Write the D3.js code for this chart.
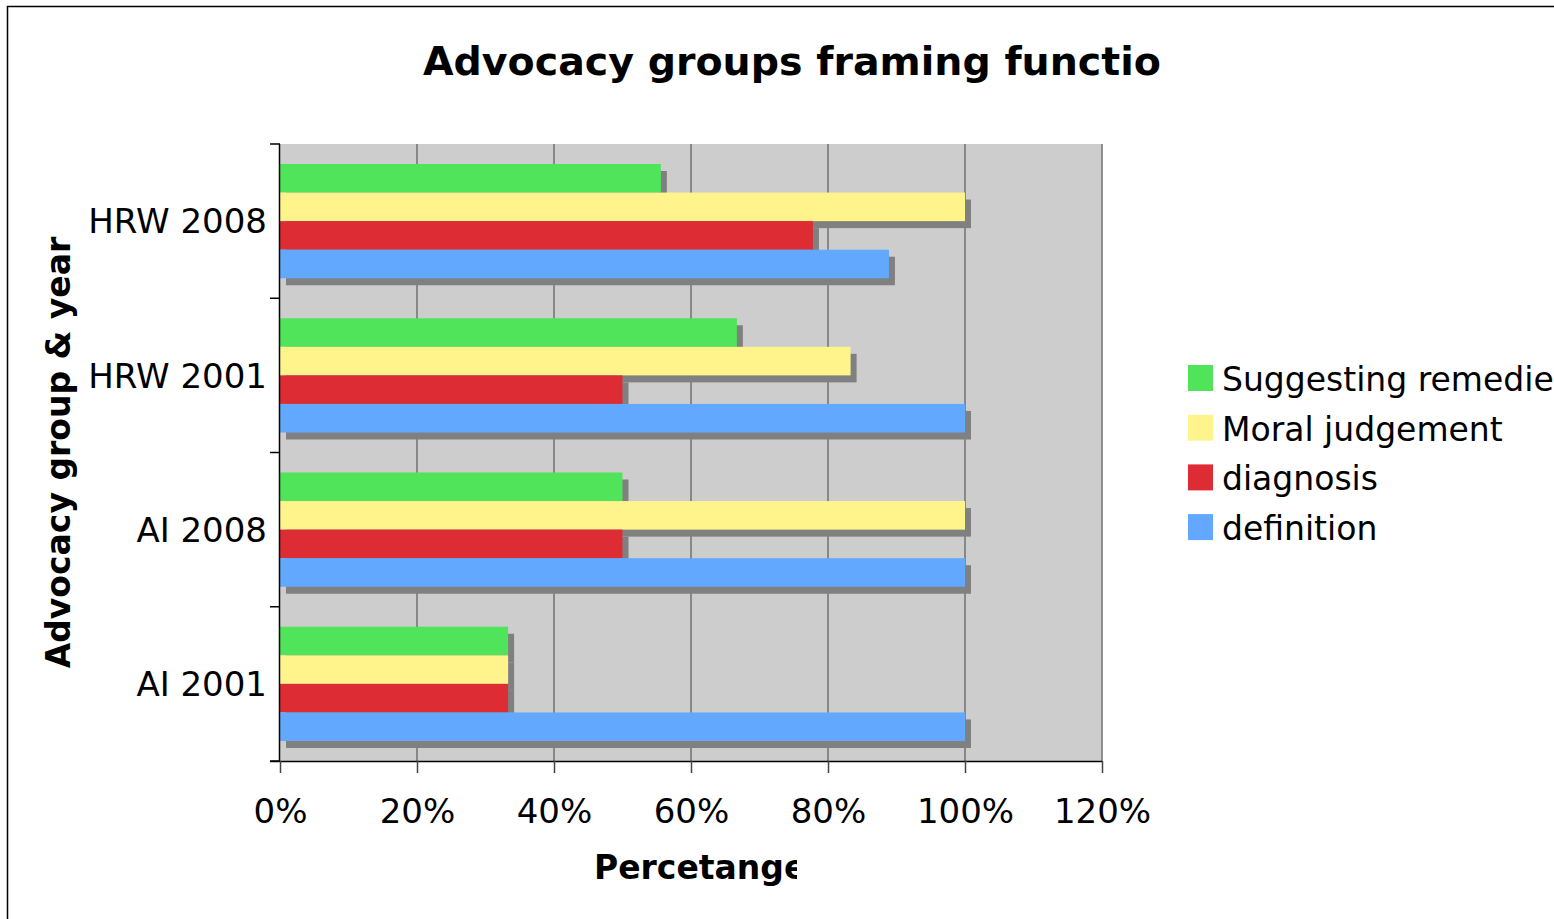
<!DOCTYPE html>
<html>
<head>
<meta charset="utf-8">
<script src="https://cdn.jsdelivr.net/npm/d3@7"></script>
<style>
  body { margin: 0; background: #fff; }
  svg text { font-family: "DejaVu Sans", Verdana, sans-serif; }
</style>
</head>
<body>
<div id="chart"></div>
<script>
// categories from top to bottom
const groups = ["HRW 2008", "HRW 2001", "AI 2008", "AI 2001"];
const seriesNames = ["Suggesting remedies", "Moral judgement", "diagnosis", "definition"];
const seriesColors = ["#50e45a", "#fff48c", "#de2c34", "#62a8ff"];

// values per series, in the same order as groups
const remedies  = [0.556, 0.667, 0.5, 0.333];
const moral     = [1.0, 0.833, 1.0, 0.333];
const diagnosis = [0.778, 0.5, 0.5, 0.333];
const definition = [0.889, 1.0, 1.0, 1.0];
const seriesValues = [remedies, moral, diagnosis, definition];

const xTicks = [0, 0.2, 0.4, 0.6, 0.8, 1.0, 1.2];

const width = 1554;
const height = 919;
const plot = { left: 280, top: 144, right: 1102, bottom: 761 };

const svg = d3.select("#chart")
  .append("svg")
  .attr("width", width)
  .attr("height", height);

// outer frame (only top and left edges show)
svg.append("path")
  .attr("d", `M7.5,${height + 5} V6.5 H${width + 5}`)
  .attr("fill", "none")
  .attr("stroke", "#000")
  .attr("stroke-width", 1.5);

const x = d3.scaleLinear()
  .domain([0, 1.2])
  .range([plot.left, plot.right]);

const y0 = d3.scaleBand()
  .domain(groups)
  .range([plot.top, plot.bottom]);

const y1 = d3.scaleBand()
  .domain(seriesNames)
  .range([20, y0.bandwidth() - 20]);

// plot background
svg.append("rect")
  .attr("x", plot.left)
  .attr("y", plot.top)
  .attr("width", plot.right - plot.left)
  .attr("height", plot.bottom - plot.top)
  .attr("fill", "#cdcdcd");

// vertical gridlines
svg.append("g")
  .selectAll("line")
  .data(xTicks.slice(1))
  .enter().append("line")
  .attr("x1", d => x(d)).attr("x2", d => x(d))
  .attr("y1", plot.top).attr("y2", plot.bottom)
  .attr("stroke", "#707070")
  .attr("stroke-width", 1.5);

// bar rows: one per group/series pair
const rows = [];
groups.forEach((g, gi) => {
  seriesNames.forEach((s, si) => {
    rows.push({ group: g, series: s, value: seriesValues[si][gi], color: seriesColors[si] });
  });
});

const defs = svg.append("defs");

defs.append("clipPath").attr("id", "plotClip")
  .append("rect")
  .attr("x", plot.left).attr("y", plot.top)
  .attr("width", plot.right - plot.left).attr("height", plot.bottom - plot.top);

defs.append("clipPath").attr("id", "titleClip")
  .append("rect").attr("x", 0).attr("y", 0).attr("width", 1160).attr("height", 120);

defs.append("clipPath").attr("id", "xTitleClip")
  .append("rect").attr("x", 0).attr("y", 830).attr("width", 797).attr("height", 80);

const bars = svg.append("g").attr("clip-path", "url(#plotClip)");

// shadows first so bars overlap them
bars.selectAll("rect.shadow")
  .data(rows)
  .enter().append("rect")
  .attr("class", "shadow")
  .attr("x", plot.left + 6)
  .attr("y", d => y0(d.group) + y1(d.series) + 7)
  .attr("width", d => x(d.value) - plot.left)
  .attr("height", y1.bandwidth())
  .attr("fill", "#808080");

bars.selectAll("rect.bar")
  .data(rows)
  .enter().append("rect")
  .attr("class", "bar")
  .attr("x", plot.left)
  .attr("y", d => y0(d.group) + y1(d.series))
  .attr("width", d => x(d.value) - plot.left)
  .attr("height", y1.bandwidth())
  .attr("fill", d => d.color);

// x axis
const xAxis = d3.axisBottom(x)
  .tickValues(xTicks)
  .tickFormat(d3.format(".0%"))
  .tickSize(12)
  .tickPadding(26);

svg.append("g")
  .attr("transform", `translate(0,${plot.bottom})`)
  .call(xAxis)
  .call(g => g.select(".domain").attr("d", `M${plot.left - 10},0.5H${plot.right}`).attr("stroke-width", 1.5))
  .call(g => g.selectAll(".tick line").attr("stroke-width", 1.5).attr("stroke", "#444"))
  .call(g => g.selectAll(".tick text").attr("font-size", 34).attr("fill", "#000")
    .attr("font-family", "DejaVu Sans"));

// y axis with ticks at band boundaries
const yAxisG = svg.append("g");
yAxisG.append("line")
  .attr("x1", plot.left - 0.5).attr("x2", plot.left - 0.5)
  .attr("y1", plot.top).attr("y2", plot.bottom)
  .attr("stroke", "#000").attr("stroke-width", 1.5);

const boundaries = groups.map(g => y0(g)).concat([plot.bottom]);
yAxisG.selectAll("line.tick")
  .data(boundaries)
  .enter().append("line")
  .attr("class", "tick")
  .attr("x1", plot.left - 10).attr("x2", plot.left)
  .attr("y1", d => d).attr("y2", d => d)
  .attr("stroke", "#000").attr("stroke-width", 1.5);

yAxisG.selectAll("text")
  .data(groups)
  .enter().append("text")
  .attr("x", 267)
  .attr("y", d => y0(d) + y0.bandwidth() / 2)
  .attr("dy", "0.36em")
  .attr("text-anchor", "end")
  .attr("font-size", 34)
  .text(d => d);

// title, clipped on the right as in the original
svg.append("text")
  .attr("clip-path", "url(#titleClip)")
  .attr("x", 423)
  .attr("y", 75)
  .attr("font-size", 39.5)
  .attr("font-weight", "bold")
  .text("Advocacy groups framing functions");

// x axis title, clipped
svg.append("text")
  .attr("clip-path", "url(#xTitleClip)")
  .attr("x", 594)
  .attr("y", 879)
  .attr("font-size", 33)
  .attr("font-weight", "bold")
  .text("Percetange");

// y axis title
svg.append("text")
  .attr("transform", `translate(70,${(plot.top + plot.bottom) / 2}) rotate(-90)`)
  .attr("text-anchor", "middle")
  .attr("font-size", 33)
  .attr("font-weight", "bold")
  .text("Advocacy group & year");

// legend
const legend = svg.append("g")
  .attr("transform", "translate(1188,365)");

const item = legend.selectAll("g")
  .data(seriesNames)
  .enter().append("g")
  .attr("transform", (d, i) => `translate(0,${i * 49.7})`);

item.append("rect")
  .attr("width", 25)
  .attr("height", 26)
  .attr("fill", (d, i) => seriesColors[i]);

item.append("text")
  .attr("x", 34)
  .attr("y", 14)
  .attr("dy", "0.36em")
  .attr("font-size", 33)
  .text(d => d);
</script>
</body>
</html>
